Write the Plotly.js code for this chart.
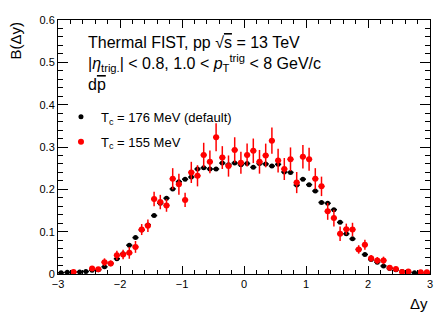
<!DOCTYPE html>
<html>
<head>
<meta charset="utf-8">
<script src="https://cdn.plot.ly/plotly-3.0.1.min.js"></script>
<style>html,body{margin:0;padding:0;background:#fff;}#plot{width:439px;height:316px;}</style>
</head>
<body>
<div id="plot"></div>
<script>
// bin centres (Δy)
const dy = [-2.95,-2.85,-2.75,-2.65,-2.55,-2.45,-2.35,-2.25,-2.15,-2.05,
            -1.95,-1.85,-1.75,-1.65,-1.55,-1.45,-1.35,-1.25,-1.15,-1.05,
            -0.95,-0.85,-0.75,-0.65,-0.55,-0.45,-0.35,-0.25,-0.15,-0.05,
             0.05, 0.15, 0.25, 0.35, 0.45, 0.55, 0.65, 0.75, 0.85, 0.95,
             1.05, 1.15, 1.25, 1.35, 1.45, 1.55, 1.65, 1.75, 1.85, 1.95,
             2.05, 2.15, 2.25, 2.35, 2.45, 2.55, 2.65, 2.75, 2.85, 2.95];
const halfBin = [0.05,0.05,0.05,0.05,0.05,0.05,0.05,0.05,0.05,0.05,
                 0.05,0.05,0.05,0.05,0.05,0.05,0.05,0.05,0.05,0.05,
                 0.05,0.05,0.05,0.05,0.05,0.05,0.05,0.05,0.05,0.05,
                 0.05,0.05,0.05,0.05,0.05,0.05,0.05,0.05,0.05,0.05,
                 0.05,0.05,0.05,0.05,0.05,0.05,0.05,0.05,0.05,0.05,
                 0.05,0.05,0.05,0.05,0.05,0.05,0.05,0.05,0.05,0.05];
// Tc = 176 MeV (default)
const b176 = [0.003,0.004,0.004,0.005,0.006,0.009,0.010,0.017,0.025,0.036,
              0.048,0.068,0.086,0.104,0.116,0.138,0.167,0.179,0.201,0.218,
              0.224,0.229,0.248,0.251,0.248,0.248,0.262,0.258,0.262,0.258,
              0.261,0.252,0.261,0.260,0.255,0.259,0.241,0.240,0.210,0.224,
              0.211,0.196,0.169,0.167,0.152,0.122,0.095,0.083,0.058,0.046,
              0.034,0.028,0.019,0.013,0.010,0.006,0.004,0.003,0.003,0.002];
// Tc = 155 MeV
const b155 = [null,null,0.005,null,null,0.013,0.011,0.028,0.025,0.044,
              0.046,0.050,0.064,0.105,0.114,0.177,0.170,0.162,0.225,0.212,
              0.175,0.240,0.232,0.281,0.265,0.323,0.275,0.255,0.293,0.263,
              0.281,0.291,0.265,0.280,0.315,0.268,0.248,0.271,0.216,0.277,
              0.271,0.225,0.207,0.148,0.132,0.095,0.106,0.105,0.058,0.069,
              0.037,0.032,0.032,0.015,0.012,0.005,0.006,null,0.004,0.004];
const e155 = [0,0,0.003,0,0,0.006,0.005,0.009,0.007,0.011,
              0.011,0.014,0.014,0.013,0.015,0.017,0.017,0.015,0.025,0.025,
              0.017,0.025,0.025,0.029,0.027,0.033,0.027,0.025,0.030,0.026,
              0.027,0.029,0.028,0.028,0.031,0.028,0.026,0.028,0.025,0.028,
              0.027,0.025,0.023,0.020,0.020,0.017,0.013,0.016,0.010,0.012,
              0.008,0.008,0.009,0.006,0.005,0.003,0.003,0,0.003,0.003];
const names = ['T<sub>c</sub> = 176 MeV (default)', 'T<sub>c</sub> = 155 MeV'];
const colors = ['#000000', '#ff0000'];

const FONT = 'Liberation Sans, Arial, sans-serif';

const traces = [
  {
    x: dy, y: b176, type: 'scatter', mode: 'markers', name: names[0], legendgroup: 'a',
    marker: {symbol: 'circle', size: 5, color: colors[0]},
    error_x: {type: 'data', array: halfBin, visible: true, color: colors[0], thickness: 1.5, width: 0}
  },
  {
    x: dy, y: b155, type: 'scatter', mode: 'markers', name: names[1], legendgroup: 'b',
    marker: {symbol: 'circle', size: 6, color: colors[1]},
    error_x: {type: 'data', array: halfBin, visible: true, color: colors[1], thickness: 1.5, width: 0},
    error_y: {type: 'data', array: e155, visible: true, color: colors[1], thickness: 1.5, width: 0}
  }
];

const axisCommon = {
  showgrid: false, zeroline: false, showline: true, linecolor: '#000', linewidth: 1,
  mirror: 'allticks', ticks: 'inside', tickcolor: '#000', tickwidth: 1,
  tickfont: {family: FONT, size: 11, color: '#000'}
};

const layout = {
  width: 439, height: 316,
  margin: {l: 58, r: 9, t: 20, b: 42},
  paper_bgcolor: '#fff', plot_bgcolor: '#fff',
  font: {family: FONT, color: '#000'},
  showlegend: true,
  legend: {
    x: 0.008, y: 0.678, xanchor: 'left', yanchor: 'top',
    bgcolor: 'rgba(0,0,0,0)', font: {family: FONT, size: 13, color: '#000'},
    traceorder: 'grouped', tracegroupgap: 5, itemclick: false
  },
  xaxis: Object.assign({}, axisCommon, {
    range: [-3, 3], tick0: 0, dtick: 1, ticklen: 8,
    minor: {dtick: 0.2, ticks: 'inside', ticklen: 4, tickcolor: '#000', tickwidth: 1, showgrid: false}
  }),
  yaxis: Object.assign({}, axisCommon, {
    range: [0, 0.6], tick0: 0, dtick: 0.1, ticklen: 10,
    minor: {dtick: 0.02, ticks: 'inside', ticklen: 5, tickcolor: '#000', tickwidth: 1, showgrid: false}
  }),
  annotations: [
    {text: 'B(Δy)', xref: 'paper', yref: 'paper', x: 0, y: 1, xanchor: 'right', yanchor: 'top',
     xshift: -33, textangle: -90, showarrow: false, font: {family: FONT, size: 15}},
    {text: 'Δy', xref: 'paper', yref: 'paper', x: 1, y: 0, xanchor: 'right', yanchor: 'top',
     yshift: -19, showarrow: false, font: {family: FONT, size: 15}},
    {text: 'Thermal FIST, pp √<span style="text-decoration:overline">s</span> = 13 TeV',
     xref: 'paper', yref: 'paper', x: 0.076, y: 0.912, xanchor: 'left', yanchor: 'middle',
     showarrow: false, font: {family: FONT, size: 16}},
    {text: '|<i>η</i><sub>trig.</sub>| &lt; 0.8, 1.0 &lt; <i>p</i><sub>T</sub><sup>trig</sup> &lt; 8 GeV/c',
     xref: 'paper', yref: 'paper', x: 0.076, y: 0.829, xanchor: 'left', yanchor: 'middle',
     showarrow: false, font: {family: FONT, size: 16}},
    {text: 'd<span style="text-decoration:overline">p</span>',
     xref: 'paper', yref: 'paper', x: 0.076, y: 0.745, xanchor: 'left', yanchor: 'middle',
     showarrow: false, font: {family: FONT, size: 16}}
  ]
};

Plotly.newPlot('plot', traces, layout, {staticPlot: true, displayModeBar: false});
</script>
</body>
</html>
